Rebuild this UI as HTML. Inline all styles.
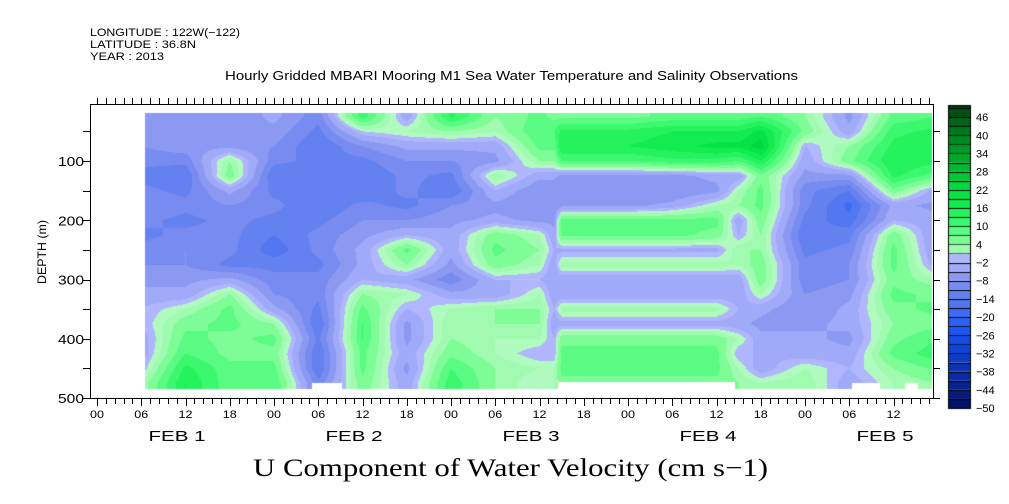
<!DOCTYPE html>
<html><head><meta charset="utf-8">
<style>
html,body{margin:0;padding:0;background:#fff;}
#wrap{position:relative;width:1009px;height:504px;overflow:hidden;font-family:"Liberation Sans",sans-serif;}
svg text{font-family:"Liberation Sans",sans-serif;fill:#000;}
</style></head>
<body>
<div id="wrap">
<svg id="svg" width="1009" height="504">
<text x="90" y="36" font-size="11" textLength="150" lengthAdjust="spacingAndGlyphs">LONGITUDE : 122W(−122)</text>
<text x="90" y="48" font-size="11" textLength="106" lengthAdjust="spacingAndGlyphs">LATITUDE : 36.8N</text>
<text x="90" y="60" font-size="11" textLength="74" lengthAdjust="spacingAndGlyphs">YEAR : 2013</text>
<text x="225" y="80" font-size="12.5" textLength="573" lengthAdjust="spacingAndGlyphs">Hourly Gridded MBARI Mooring M1 Sea Water Temperature and Salinity Observations</text>
<text x="253" y="476" font-size="25" textLength="515" lengthAdjust="spacingAndGlyphs" style="font-family:'Liberation Serif',serif">U Component of Water Velocity (cm s−1)</text>
<text transform="translate(46,252) rotate(-90)" font-size="12" text-anchor="middle" textLength="64" lengthAdjust="spacingAndGlyphs">DEPTH (m)</text>
<foreignObject x="0" y="0" width="1009" height="504"><canvas xmlns="http://www.w3.org/1999/xhtml" id="cv" width="1009" height="504" style="display:block"></canvas></foreignObject>
<g id="axes"></g>
</svg>
</div>
<script>
// time columns (hours since Feb 1 00:00)
const hours = [6,12,18,24,30,36,42,48,54,60,62,63,72,78,84,87,90,96,102,108,114];
// depth rows (m)
const depths = [25,50,75,100,125,150,175,200,225,250,275,300,325,350,375,400,425,450,475];
// U values per time column, top to bottom (cm/s)
const u_h6  = [-8,-6,-8,-10,-12,-10,-8,-10,-12,-10,-8,-6,-4,-2,-2,-4,-4,-2,2];
const u_h12 = [-6,-6,-6,-10,-14,-12,-10,-12,-10,-8,-8,-6,-4,2,6,8,10,14,16];
const u_h18 = [-8,-6,-6,4,6,-4,-8,-10,-10,-10,-12,-4,4,8,8,6,6,8,8];
const u_h24 = [-4,-6,-8,-10,-14,-12,-10,-12,-14,-16,-12,-10,-8,-4,4,8,6,8,10];
const u_h30 = [-10,-12,-14,-12,-14,-12,-14,-12,-10,-10,-12,-10,-10,-12,-14,-12,-14,-14,-10];
const u_h36 = [12,0,-8,-12,-14,-14,-10,-8,-6,-4,-4,-2,4,8,10,10,8,8,6];
const u_h42 = [-4,2,-4,-8,-10,-10,-12,-8,-2,8,4,-4,2,-2,-6,-6,-4,-6,-4];
const u_h48 = [14,4,-4,-8,-12,-14,-8,-6,-4,-4,-6,-10,-4,2,4,4,6,10,12];
const u_h54 = [4,2,-4,-6,4,-2,-6,-4,6,8,6,-2,-4,4,4,2,2,4,4];
const u_h60 = [8,10,8,4,-4,-8,-8,-6,2,4,2,-2,2,4,4,2,-2,2,0];
const u_h62 = [6,10,8,4,-4,-8,-8,-6,-4,-2,-4,-4,-4,-2,-4,-2,-2,2,2];
const u_h63 = [6,14,16,10,-6,-8,-6,8,8,-3,3,-4,-4,3,-3,6,8,8,6];
const u_h72 = [6,14,16,10,-6,-8,-6,8,8,-3,3,-4,-4,3,-3,6,8,8,6];
const u_h78 = [8,16,18,12,-6,-8,-4,8,8,-3,3,-4,-4,3,-3,6,8,8,6];
const u_h84 = [8,16,20,12,-4,-6,2,8,6,-3,3,-4,-4,3,-3,6,8,8,6];
const u_h87 = [8,16,20,10,-4,2,4,-4,-2,4,2,-4,-4,-2,-4,2,-2,2,4];
const u_h90 = [10,20,24,16,6,8,8,6,4,4,6,6,2,-4,-6,-4,-2,-4,2];
const u_h96 = [4,6,-2,-4,-6,-10,-10,-12,-14,-12,-10,-10,-8,-8,-6,-4,-4,2,4];
const u_h102= [-6,-4,4,6,-6,-14,-18,-16,-12,-10,-8,-8,-6,-4,-4,-6,-4,-2,-4];
const u_h108= [8,12,14,16,14,6,-4,-2,6,8,8,6,8,6,4,6,8,4,2];
const u_h114= [10,14,16,14,8,-4,-6,-4,-6,-6,-4,2,6,8,6,10,12,8,4];
const columns = [u_h6,u_h12,u_h18,u_h24,u_h30,u_h36,u_h42,u_h48,u_h54,u_h60,u_h62,u_h63,u_h72,u_h78,u_h84,u_h87,u_h90,u_h96,u_h102,u_h108,u_h114];
const yTicks = [100,200,300,400,500];
const cbarLabels = [46,40,34,28,22,16,10,4,-2,-8,-14,-20,-26,-32,-38,-44,-50];
const hourLabels = ["00","06","12","18"];
const dayLabels = ["FEB  1","FEB  2","FEB  3","FEB  4","FEB  5"];

// axis functions
const X0=90, X1=933, Y0=104, Y1=398;
const xOf = h => 97 + h*177/24;
const yOf = d => 101.75 + d*0.5925;
const dOf = y => (y-101.75)/0.5925;
const hOf = x => (x-97)*24/177;

// colour map
const anchors=[[-50,[0,12,96]],[-38,[10,48,176]],[-26,[20,80,238]],[-20,[52,102,245]],[-14,[90,124,240]],[-8,[128,144,240]],[-4,[156,168,246]],[-1,[176,182,255]],[1,[176,250,192]],[4,[144,252,160]],[10,[72,250,120]],[16,[24,240,84]],[22,[0,224,64]],[28,[0,192,48]],[40,[0,128,32]],[50,[0,64,16]]];
function interpColor(v){
  for(let i=0;i<anchors.length-1;i++){const a=anchors[i],b=anchors[i+1];
    if(v<=b[0]){const t=Math.max(0,(v-a[0])/(b[0]-a[0]));return a[1].map((c,k)=>Math.round(c+(b[1][k]-c)*t));}}
  return anchors[anchors.length-1][1];
}
function bandColor(v){
  v=Math.max(-50,Math.min(49.9,v));
  const b=Math.floor((v+50)/3);
  let c=-50+b*3+1.5;
  if(v>-2&&v<0) c=-1; if(v>=0&&v<2) c=1;
  return interpColor(c);
}

const cv=document.getElementById('cv');


const ctx=cv.getContext('2d');
const dx0=Math.round(xOf(6.5)), dx1=Math.round(xOf(113.2)), dy0=113, dy1=389;
const img=ctx.createImageData(dx1-dx0,dy1-dy0);
function locate(arr,v){
  if(v<=arr[0]) return [0,0];
  for(let i=0;i<arr.length-1;i++){ if(v<=arr[i+1]) return [i,(v-arr[i])/(arr[i+1]-arr[i])]; }
  return [arr.length-2,1];
}
function sample(h,d){
  const [i,ti]=locate(hours,h), [j,tj]=locate(depths,d);
  const a=columns[i][j],b=columns[i+1][j],c=columns[i][j+1],e=columns[i+1][j+1];
  return (a*(1-ti)+b*ti)*(1-tj)+(c*(1-ti)+e*ti)*tj;
}
for(let y=dy0;y<dy1;y++){const d=dOf(y+0.5);
  for(let x=dx0;x<dx1;x++){const h=hOf(x+0.5);const col=bandColor(sample(h,d));
    const k=((y-dy0)*(dx1-dx0)+(x-dx0))*4;img.data[k]=col[0];img.data[k+1]=col[1];img.data[k+2]=col[2];img.data[k+3]=255;}}
ctx.putImageData(img,dx0,dy0);
ctx.fillStyle='#fff';
[[312,383,30,6],[558,382,177,7],[852,383,28,6],[905,383,13,6]].forEach(r=>ctx.fillRect(r[0],r[1],r[2],r[3]));

// colour bar
for(let v=-50;v<50;v+=3){
  const top=408-(Math.min(v+3,50)+50)*3.03, bot=408-(v+50)*3.03;
  const col=bandColor(v+1.5);
  ctx.fillStyle='rgb('+col.join(',')+')';ctx.fillRect(948,top,22,bot-top);
  ctx.fillStyle='#000';ctx.fillRect(948,Math.round(top),22,1);
}
ctx.strokeStyle='#000';ctx.lineWidth=1;ctx.strokeRect(948.5,105.5,22,303);

const NS='http://www.w3.org/2000/svg';
const g=document.getElementById('axes');
function line(x1,y1,x2,y2,name){const l=document.createElementNS(NS,'line');
  l.setAttribute('x1',x1);l.setAttribute('y1',y1);l.setAttribute('x2',x2);l.setAttribute('y2',y2);
  l.setAttribute('stroke','#000');l.setAttribute('stroke-width','1');
  
  
  g.appendChild(l);}
function text(x,y,s,size,anchor,name,len){const t=document.createElementNS(NS,'text');
  t.setAttribute('x',x);t.setAttribute('y',y);t.setAttribute('font-size',size);t.setAttribute('text-anchor',anchor);t.textContent=s;
  if(len){t.setAttribute('textLength',len);t.setAttribute('lengthAdjust','spacingAndGlyphs');}
  t.setAttribute('xml:space','preserve');
  
  
  g.appendChild(t);}
// frame
line(X0+.5,Y0,X0+.5,Y1+1,'left-axis');line(X0,Y0+.5,X1+1,Y0+.5,'top-axis');
line(X1+.5,Y0,X1+.5,Y1+1,'right-axis');line(X0,Y1+.5,X1+1,Y1+.5,'bottom-axis');
// y ticks
for(let d=50;d<=500;d+=50){const y=Math.round(yOf(d))+.5;
  line(X0-7,y,X0,y,'y-tick');line(X1,y,X1+7,y,'y-tick-right');}
yTicks.forEach(d=>text(84,yOf(d)+5,String(d),13,'end','y-tick-label',26));
// x ticks
for(let k=-5;k*1.2<=117;k++){const h=k*1.2;const x=Math.round(xOf(h))+.5;if(x<X0||x>X1)continue;
  const major=k%5===0;
  line(x,Y1,x,Y1+(major?8:6),'x-tick');line(x,Y0-6,x,Y0,'x-tick-top');}
for(let day=0;day<5;day++){
  for(let q=0;q<4;q++){const h=day*24+q*6;const x=xOf(h);if(x>X1-5)continue;
    text(x,418,hourLabels[q],11,'middle','x-tick-label',14);}
  text(xOf(day*24+12)-37,441,dayLabels[day],15,'start','date-label',57);
}
cbarLabels.forEach(v=>text(976,408-(v+50)*3.03+4,String(v).replace('-','−'),11,'start','colorbar-label'));
</script>
</body></html>
